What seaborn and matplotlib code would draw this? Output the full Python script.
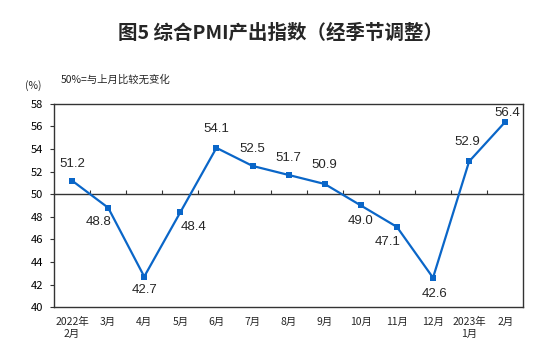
import numpy as np
import pandas as pd
import seaborn as sns
import matplotlib.pyplot as plt

# 月份标签
months = ["2022年\n2月", "3月", "4月", "5月", "6月", "7月", "8月", "9月",
          "10月", "11月", "12月", "2023年\n1月", "2月"]
# 综合PMI产出指数
pmi = [51.2, 48.8, 42.7, 48.4, 54.1, 52.5, 51.7, 50.9, 49.0, 47.1, 42.6, 52.9, 56.4]
# 数据标签偏移（像素）
label_dx = [0, -10, 0, 13, 0, 0, 0, 0, 0, -9, 2, -2, 2]
label_dy = [17, -14, -13, -15, 19, 17, 17, 19, -16, -15, -16, 19, 9]

sns.set_style("white")
plt.rcParams['font.family'] = ['Noto Sans CJK SC', 'DejaVu Sans']
plt.rcParams['axes.unicode_minus'] = False

df = pd.DataFrame({'idx': np.arange(len(months)), 'pmi': pmi})

fig = plt.figure(figsize=(5.6, 3.63), dpi=100)
ax = fig.add_axes([0.0964, 0.154, 0.838, 0.56])

blue = '#0a66c8'
sns.lineplot(data=df, x='idx', y='pmi', ax=ax, color=blue, linewidth=1.6,
             marker='s', markersize=4.5, markeredgewidth=0, markerfacecolor=blue)

ax.set_xlim(-0.5, len(months) - 0.5)
ax.set_ylim(40, 58)
ax.set_yticks(np.arange(40, 59, 2))
ax.set_xticks(df['idx'])
ax.set_xticklabels(months, fontsize=7.5, linespacing=1.3)
ax.tick_params(axis='x', length=0, pad=7)
ax.tick_params(axis='y', left=True, length=3, width=0.8, direction='out', labelsize=8,
               pad=5, colors='#333333', labelcolor='black')
ax.set_xlabel('')
ax.set_ylabel('')
for s in ax.spines.values():
    s.set_color('#333333')
    s.set_linewidth(1.0)

# 50%基准线（横轴）
sec = ax.secondary_xaxis((50 - 40) / 18)
sec.set_xticks(np.arange(0.5, len(months) - 1, 1))
sec.set_xticklabels([])
sec.xaxis.set_ticks_position('top')
sec.tick_params(axis='x', top=True, bottom=False, direction='out', length=3,
                width=0.8, colors='#333333')
sec.spines['top'].set_color('#333333')
sec.spines['top'].set_linewidth(1.0)
sec.spines['bottom'].set_visible(False)

# 数据标签
for i, v in enumerate(pmi):
    ax.annotate(f"{v:.1f}", (i, v), xytext=(label_dx[i], label_dy[i]),
                textcoords='offset pixels', ha='center', va='center',
                fontsize=9.5, family=['Liberation Sans', 'DejaVu Sans'])

fig.text(0.5, 0.909, "图5 综合PMI产出指数（经季节调整）", ha='center', va='center',
         fontsize=14, fontweight='bold')
fig.text(0.045, 0.763, "(%)", ha='left', va='center', fontsize=7.5)
fig.text(0.109, 0.78, "50%=与上月比较无变化", ha='left', va='center', fontsize=7.5)

fig.savefig('out.png', dpi=100)
